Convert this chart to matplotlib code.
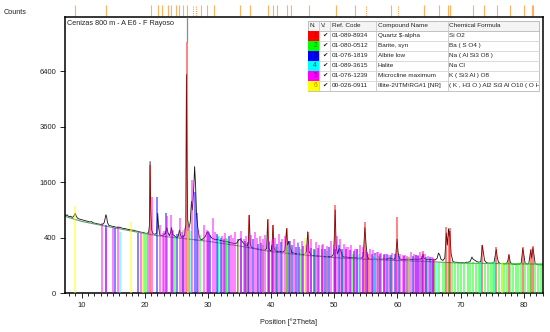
import numpy as np
import matplotlib
matplotlib.use("Agg")
import matplotlib.pyplot as plt
from matplotlib.patches import Rectangle
from matplotlib.transforms import Bbox, TransformedBbox

plt.rcParams['font.family'] = ['Liberation Sans', 'DejaVu Sans']

W, H = 550, 332

scan = [
    (7.3, 800), (7.5, 780), (7.7, 800), (7.9, 770), (8.1, 760), (8.3, 770), (8.5, 745), (8.7, 760),
    (8.9, 800), (9.0, 830), (9.1, 790), (9.3, 740), (9.5, 720), (9.8, 710), (10.1, 700), (10.4, 690),
    (10.7, 680), (11.0, 670), (11.3, 660), (11.6, 665), (11.9, 640), (12.2, 635), (12.5, 625), (12.8, 620),
    (13.1, 610), (13.4, 620), (13.6, 650), (13.75, 740), (13.85, 800), (13.95, 770), (14.1, 650), (14.3, 600),
    (14.6, 590), (14.9, 580), (15.2, 575), (15.5, 565), (15.8, 560), (16.1, 565), (16.4, 550), (16.7, 545),
    (17.0, 540), (17.3, 530), (17.6, 525), (17.9, 520), (18.2, 515), (18.5, 505), (18.8, 500), (19.1, 490),
    (19.4, 485), (19.7, 480), (20.0, 470), (20.3, 465), (20.6, 470), (20.75, 600), (20.85, 2250), (20.95, 900),
    (21.1, 520), (21.3, 460), (21.6, 450), (21.9, 470), (22.05, 830), (22.2, 560), (22.4, 440), (22.7, 430),
    (23.0, 440), (23.3, 470), (23.5, 560), (23.7, 470), (23.9, 430), (24.1, 480), (24.25, 560), (24.4, 450),
    (24.7, 430), (25.0, 400), (25.3, 420), (25.5, 520), (25.7, 430), (25.9, 400), (26.1, 420), (26.3, 430),
    (26.5, 600), (26.6, 6200), (26.7, 2000), (26.8, 700), (27.0, 560), (27.2, 650), (27.4, 1100), (27.55, 900),
    (27.75, 1400), (27.9, 2080), (28.05, 1500), (28.2, 800), (28.4, 560), (28.6, 430), (28.8, 380), (29.0, 370),
    (29.3, 390), (29.6, 420), (29.85, 480), (30.1, 470), (30.4, 420), (30.7, 390), (31.0, 380), (31.3, 370),
    (31.6, 380), (31.9, 360), (32.2, 360), (32.5, 350), (32.8, 345), (33.1, 345), (33.4, 335), (33.7, 330),
    (34.0, 325), (34.3, 320), (34.6, 330), (34.9, 370), (35.1, 380), (35.3, 360), (35.6, 330), (35.9, 300),
    (36.2, 290), (36.4, 330), (36.55, 790), (36.7, 320), (36.9, 270), (37.2, 265), (37.5, 260), (37.8, 255),
    (38.1, 250), (38.4, 245), (38.7, 240), (39.0, 240), (39.3, 260), (39.46, 700), (39.6, 270), (39.8, 240),
    (40.0, 235), (40.15, 300), (40.3, 600), (40.45, 270), (40.7, 230), (41.0, 225), (41.3, 230), (41.6, 225),
    (41.9, 220), (42.2, 240), (42.45, 540), (42.6, 300), (42.8, 350), (43.0, 280), (43.3, 215), (43.6, 210),
    (43.9, 205), (44.2, 200), (44.5, 200), (44.8, 195), (45.1, 195), (45.4, 200), (45.6, 230), (45.8, 490),
    (46.0, 230), (46.3, 190), (46.6, 185), (46.9, 185), (47.2, 180), (47.5, 180), (47.8, 178), (48.1, 178),
    (48.4, 175), (48.7, 175), (49.0, 175), (49.3, 172), (49.6, 175), (49.9, 200), (50.05, 500), (50.15, 900),
    (50.3, 300), (50.5, 200), (50.8, 260), (51.0, 240), (51.3, 180), (51.6, 170), (51.9, 170), (52.2, 168),
    (52.5, 165), (52.8, 165), (53.1, 162), (53.4, 165), (53.7, 160), (54.0, 160), (54.3, 160), (54.6, 180),
    (54.85, 560), (55.0, 350), (55.2, 180), (55.5, 150), (55.8, 150), (56.1, 148), (56.4, 155), (56.7, 150),
    (57.0, 150), (57.3, 152), (57.6, 150), (57.9, 155), (58.2, 150), (58.5, 155), (58.8, 160), (59.1, 155),
    (59.4, 150), (59.7, 160), (59.95, 380), (60.1, 220), (60.3, 155), (60.6, 150), (60.9, 150), (61.2, 148),
    (61.5, 150), (61.8, 150), (62.1, 148), (62.4, 150), (62.7, 152), (63.0, 150), (63.3, 150), (63.6, 150),
    (63.9, 160), (64.05, 200), (64.2, 160), (64.5, 148), (64.8, 150), (65.1, 145), (65.4, 148), (65.7, 145),
    (66.0, 145), (66.3, 160), (66.5, 210), (66.7, 190), (66.9, 150), (67.2, 140), (67.5, 160), (67.75, 470),
    (67.9, 300), (68.1, 540), (68.2, 420), (68.3, 500), (68.5, 200), (68.8, 130), (69.1, 125), (69.4, 125),
    (69.7, 122), (70.0, 120), (70.3, 122), (70.6, 120), (70.9, 125), (71.2, 125), (71.5, 130), (71.8, 170),
    (72.0, 150), (72.3, 140), (72.6, 130), (72.9, 125), (73.2, 130), (73.45, 300), (73.6, 220), (73.8, 140),
    (74.1, 122), (74.4, 118), (74.7, 118), (75.0, 118), (75.3, 125), (75.65, 250), (75.8, 170), (76.0, 125),
    (76.3, 115), (76.6, 115), (76.9, 112), (77.2, 112), (77.45, 130), (77.65, 190), (77.85, 130), (78.1, 110),
    (78.4, 110), (78.7, 108), (79.0, 110), (79.3, 110), (79.6, 120), (79.85, 260), (80.0, 200), (80.2, 120),
    (80.5, 110), (80.8, 115), (81.1, 240), (81.25, 160), (81.45, 270), (81.6, 200), (81.8, 115), (82.1, 108),
    (82.4, 105), (82.7, 105), (83.0, 105),
]

background_2theta = [7.3, 10, 14, 18, 22, 26, 30, 35, 40, 45, 50, 55, 60, 65, 70, 75, 80, 83]
background_counts = [770, 670, 580, 500, 430, 390, 350, 290, 225, 190, 165, 150, 140, 130, 118, 115, 112, 110]

# reference sticks per phase
quartz_pos = [20.86, 26.64, 36.54, 39.47, 40.29, 42.45, 45.79, 50.14, 54.87, 55.33, 59.96, 64.03,
              65.79, 67.74, 68.14, 68.31, 73.47, 75.66, 77.67, 79.88, 81.17, 81.49]
quartz_h = [2130, 8200, 790, 710, 600, 545, 490, 1010, 660, 200, 750, 230,
            150, 570, 480, 560, 300, 280, 205, 280, 250, 290]

baryte_pos = [19.9, 20.15, 24.74, 26.0, 26.9, 28.8, 31.6, 32.8, 33.1, 36.0, 38.8, 40.8, 42.6, 42.95,
              44.8, 46.9, 48.8, 51.2, 52.9, 56.2, 57.1, 58.8, 61.5, 63.5, 64.6,
              65.4, 65.9, 66.6, 67.2, 67.6, 68.0, 68.6, 69.1, 69.6, 70.0, 70.5, 71.1, 71.5, 72.0,
              72.4, 72.9, 73.3, 73.9, 74.4, 74.8, 75.1, 75.5, 76.1, 76.5, 76.9, 77.4, 77.9, 78.3,
              78.8, 79.1, 79.5, 80.2, 80.7, 81.0, 81.8, 82.3, 82.8]
baryte_h = [470, 460, 410, 520, 640, 440, 430, 400, 380, 330, 300, 280, 300, 360,
            260, 240, 230, 220, 200, 180, 180, 170, 165, 160, 155,
            124, 122, 124, 122, 123, 122, 124, 122, 121, 122, 123, 122, 121, 123,
            122, 121, 123, 122, 121, 122, 123, 121, 122, 121, 122, 123, 121, 122,
            121, 122, 121, 122, 121, 122, 121, 122, 121]

albite_pos = [13.9, 15.25, 18.93, 22.0, 23.36, 24.3, 25.1, 26.0, 27.95, 28.2, 29.95, 30.4, 31.4,
              32.0, 32.5, 33.3, 34.8, 35.3, 35.9, 36.3, 37.1, 37.9, 38.4, 39.7, 40.2, 40.9,
              41.5, 42.9, 43.3, 44.0, 44.5, 45.1, 46.3, 46.8, 47.4, 48.0, 48.6, 49.2, 50.1,
              50.8, 51.3, 51.8, 52.5, 53.1, 53.6, 54.5, 55.2, 55.9, 56.5, 57.2, 57.8, 58.4,
              59.0, 59.6, 60.3, 61.0, 61.9, 62.4, 62.9, 63.3, 63.9, 64.6, 65.1, 65.6]
albite_h = [600, 560, 470, 1190, 830, 500, 460, 440, 1340, 830, 500, 440, 460,
            400, 380, 430, 380, 400, 360, 340, 380, 320, 330, 340, 300, 320,
            340, 360, 300, 280, 280, 290, 270, 260, 270, 260, 250, 280, 260,
            300, 250, 260, 240, 230, 250, 220, 220, 200, 210, 200, 190, 200,
            190, 200, 180, 180, 170, 180, 190, 180, 180, 170, 170, 150]

halite_pos = [16.15, 27.35, 31.7, 44.2, 53.9, 56.5, 66.2, 73.1, 75.3]
halite_h = [480, 500, 420, 340, 200, 190, 130, 125, 125]

microcline_pos = [13.2, 13.8, 15.0, 15.8, 19.4, 20.5, 21.1, 22.4, 22.85, 23.1, 23.55, 24.15, 24.5,
                  25.57, 25.9, 26.3, 27.0, 27.52, 28.5, 29.4, 29.8, 30.2, 30.85, 31.2, 32.2, 32.75,
                  33.6, 34.0, 34.3, 35.2, 35.7, 36.1, 36.8, 37.4, 37.8, 38.2, 38.7, 39.0, 39.7,
                  40.3, 40.7, 41.2, 41.8, 42.2, 43.0, 43.6, 44.2, 44.9, 45.5, 45.9, 46.4, 47.1,
                  47.6, 48.0, 48.3, 48.9, 49.5, 49.9, 50.45, 50.9, 51.5, 51.9, 52.1, 52.7, 53.3,
                  53.6, 54.0, 54.5, 55.1, 55.6, 56.2, 56.8, 57.0, 57.4, 57.8, 58.0, 58.6, 59.2,
                  59.8, 60.4, 60.9, 61.2, 61.5, 62.1, 62.6, 62.9, 63.2, 63.6, 64.0, 64.3, 64.9,
                  65.4, 65.7]
microcline_h = [640, 560, 560, 580, 470, 480, 1190, 600, 470, 500, 780, 800, 520,
                735, 480, 560, 620, 1670, 520, 600, 520, 480, 735, 480, 420, 475,
                440, 400, 480, 500, 380, 420, 440, 480, 400, 420, 380, 440, 360,
                380, 400, 460, 380, 420, 360, 380, 330, 360, 300, 320, 380, 340,
                300, 300, 320, 290, 360, 300, 420, 380, 320, 280, 280, 300, 260,
                250, 300, 280, 240, 260, 240, 220, 220, 210, 200, 200, 190, 210,
                200, 200, 190, 190, 180, 220, 200, 190, 190, 220, 200, 200, 180,
                170, 160]

illite_pos = [8.9, 17.75, 19.8, 26.8, 34.9, 45.4, 61.8, 76.5]
illite_h = [990, 650, 440, 500, 360, 400, 180, 125]

main_peak_top = 9870

# peak list marks above the plot
peak_marks = [8.96, 13.87, 20.94, 22.05, 22.77, 23.63, 24.15, 24.94, 25.42, 26.0, 26.68,
              28.9, 29.8, 30.95, 35.07, 36.65, 39.55, 40.34, 40.97, 42.46, 43.14, 46.0,
              50.26, 53.27, 58.91, 64.18, 66.6, 67.93, 68.3, 71.89, 73.68, 75.84, 77.79,
              80.0, 81.32, 81.48]
peak_marks_dotted = [27.63, 28.1, 55.01, 60.12]

ref_codes = ["01-089-8934", "01-080-0512", "01-076-1819", "01-089-3615", "01-076-1239", "00-026-0911"]
compounds = ["Quartz \\$-alpha", "Barite, syn", "Albite low", "Halite", "Microcline maximum",
             "Illite-2\\ITM\\RG#1 [NR]"]
formulas = ["Si O2", "Ba ( S O4 )", "Na ( Al Si3 O8 )", "Na Cl", "K ( Si3 Al ) O8",
            "( K , H3 O ) Al2 Si3 Al O10 ( O H )2"]
phase_colors = ["#ff0000", "#00ff00", "#0000ff", "#00ffff", "#ff00ff", "#ffff00"]
number_colors = ["#9a0000", "#008a00", "#00006a", "#005555", "#8a008a", "#c08000"]

y_ticks = [0, 400, 1600, 3600, 6400]
x_ticks = [10, 20, 30, 40, 50, 60, 70, 80]

fig = plt.figure(figsize=(W / 100, H / 100), dpi=100)
ax = fig.add_axes([64.5 / W, 1 - 293.3 / H, (542.7 - 64.5) / W, (293.3 - 17.3) / H])
ax.set_yscale('function', functions=(lambda v: np.sqrt(np.clip(v, 0, None)), lambda v: np.square(v)))

tt, cc = np.array(scan).T
ax.plot(tt, cc, color="#151515", lw=0.6, zorder=2)
ax.plot(background_2theta, background_counts, color="#5f9f6a", lw=0.8, zorder=2.5)

sticks = [(quartz_pos, quartz_h), (baryte_pos, baryte_h), (albite_pos, albite_h),
          (halite_pos, halite_h), (microcline_pos, microcline_h), (illite_pos, illite_h)]
for (pos, h), col in zip(sticks, phase_colors):
    ax.vlines(pos, 0, h, colors=col, lw=1.15, alpha=0.6, zorder=3)
ax.vlines(quartz_pos[1], quartz_h[1], main_peak_top, colors="#8c8c8c", lw=0.9, zorder=3)

ax.set_xlim(7.3, 83.0)
ax.set_ylim(0, 9870)
ax.set_yticks(y_ticks)
ax.set_yticklabels([str(v) for v in y_ticks])
ax.set_xticks(x_ticks)
ax.set_xticks(np.arange(8, 84), minor=True)
ax.yaxis.set_minor_locator(matplotlib.ticker.NullLocator())
ax.tick_params(which="major", direction="out", length=3.5, width=0.7, labelsize=5.5, pad=2.5, colors="#222222")
ax.tick_params(which="minor", direction="out", length=1.8, width=0.6)
for s in ax.spines.values():
    s.set_linewidth(1.1)
    s.set_color("black")

# peak list marks in the strip above the plot
trans = ax.get_xaxis_transform()
ax.vlines(peak_marks, 1.003, 1.045, transform=trans, colors="#ffb061", lw=0.8, clip_on=False)
ax.vlines(peak_marks_dotted, 1.003, 1.045, transform=trans, colors="#ffa040", lw=0.8,
          linestyles=(0, (1, 1)), clip_on=False)

fig.text(4 / W, 1 - 12 / H, "Counts", fontsize=5.2, va="center", ha="left", color="#222222")
fig.text(288 / W, 1 - 322 / H, "Position [°2Theta]", fontsize=5.2, va="center", ha="center", color="#222222")
fig.text(67 / W, 1 - 23.5 / H, "Cenizas 800 m - A E6 - F Rayoso", fontsize=5.2, va="center", ha="left",
         color="#222222")


# table of identified phases, drawn in figure pixels
def fig_rect(x0, y0, x1, y1, **kw):
    r = Rectangle((x0 / W, 1 - y1 / H), (x1 - x0) / W, (y1 - y0) / H, transform=fig.transFigure, **kw)
    fig.add_artist(r)


cols = [308, 319, 330, 376, 447.5, 538.5]
top, row_h = 20.7, 10.0
n_rows = len(ref_codes) + 1
bottom = top + n_rows * row_h
fig_rect(cols[0], top, cols[-1], bottom, facecolor="white", edgecolor="#b8b8b8", lw=0.6, zorder=5)
fig_rect(cols[0], top, cols[-1], top + row_h, facecolor="#f4f4f4", edgecolor="#b8b8b8", lw=0.6, zorder=5)
for i, col in enumerate(phase_colors):
    y0 = top + (i + 1) * row_h
    fig_rect(cols[0], y0, cols[1], y0 + row_h, facecolor=col, edgecolor="none", zorder=5.5)
for x in cols[1:-1]:
    fig.add_artist(plt.Line2D([x / W, x / W], [1 - top / H, 1 - bottom / H], transform=fig.transFigure,
                              color="#c8c8c8", lw=0.6, zorder=6))
for r in range(2, n_rows):
    y = top + r * row_h
    fig.add_artist(plt.Line2D([cols[1] / W, cols[-1] / W], [1 - y / H, 1 - y / H], transform=fig.transFigure,
                              color="#d4d4d4", lw=0.6, zorder=6))

clip = TransformedBbox(Bbox.from_extents(cols[0] / W, 1 - bottom / H, cols[-1] / W, 1 - top / H), fig.transFigure)
headers = ["N.", "V.", "Ref. Code", "Compound Name", "Chemical Formula"]
tkw = dict(fontsize=4.6, va="center", ha="left", zorder=7, color="#222222")
for x, txt in zip(cols, headers):
    fig.text((x + 1.8) / W, 1 - (top + row_h / 2) / H, txt, **tkw)
for i in range(len(ref_codes)):
    yc = 1 - (top + (i + 1.5) * row_h) / H
    fig.text((cols[1] - 2) / W, yc, str(i + 1), fontsize=4.8, va="center", ha="right", zorder=7,
             color=number_colors[i])
    fig.text((cols[1] + cols[2]) / 2 / W, yc, "\u2714", fontsize=4.6, va="center", ha="center", zorder=7,
             color="#111111")
    fig.text((cols[2] + 1.8) / W, yc, ref_codes[i], **tkw)
    fig.text((cols[3] + 1.8) / W, yc, compounds[i], **tkw)
    t = fig.text((cols[4] + 1.8) / W, yc, formulas[i], **tkw)
    t.set_clip_box(clip)
    t.set_clip_on(True)

fig.savefig("out.png", dpi=100)
